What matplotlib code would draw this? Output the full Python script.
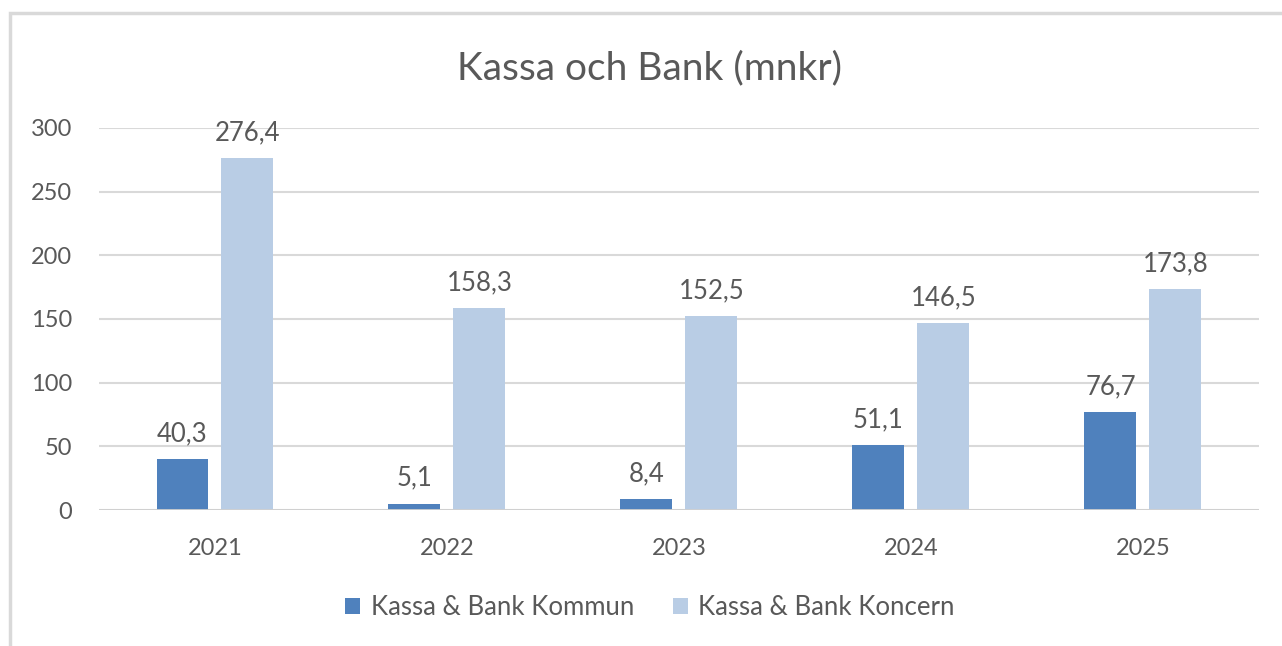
import numpy as np
import matplotlib.pyplot as plt
from matplotlib.patches import Rectangle

years = ["2021", "2022", "2023", "2024", "2025"]
kommun = [40.3, 5.1, 8.4, 51.1, 76.7]
koncern = [276.4, 158.3, 152.5, 146.5, 173.8]

plt.rcParams["font.family"] = ["Lato", "DejaVu Sans"]
text_color = "#595959"

fig = plt.figure(figsize=(12.82, 6.46), dpi=100)
ax = fig.add_axes([0.0772, 0.2105, 0.9048, 0.5914])

# chart frame (top and left edges visible in reference)
fig.add_artist(Rectangle((0.008, -0.01), 1.1, 0.99, transform=fig.transFigure,
                         fill=False, edgecolor="#d9d9d9", linewidth=2.5))

x = np.arange(len(years))
w = 0.224
b1 = ax.bar(x - 0.14, kommun, w, color="#4f81bd", label="Kassa & Bank Kommun", zorder=3)
b2 = ax.bar(x + 0.14, koncern, w, color="#b9cde5", label="Kassa & Bank Koncern", zorder=3)

for bars, vals in ((b1, kommun), (b2, koncern)):
    for bar, v in zip(bars, vals):
        ax.text(bar.get_x() + bar.get_width() / 2, v + 10,
                f"{v:.1f}".replace(".", ","), ha="center", va="bottom",
                fontsize=18.5, color=text_color)

ax.set_xlim(-0.5, 4.5)
ax.set_ylim(0, 300)
ax.set_yticks(range(0, 301, 50))
ax.set_xticks(x)
ax.set_xticklabels(years)
ax.grid(axis="y", color="#d9d9d9", linewidth=1.5, zorder=0)
for s in ax.spines.values():
    s.set_visible(False)
ax.axhline(0, color="#d0d0d0", linewidth=2, zorder=4)
ax.tick_params(length=0, labelsize=17, labelcolor=text_color)
ax.tick_params(axis="y", pad=19.5)
ax.tick_params(axis="x", pad=20)

fig.text(0.507, 0.895, "Kassa och Bank (mnkr)", ha="center", va="center",
         fontsize=28, color=text_color)

fig.legend(handles=[b1, b2], loc="center", bbox_to_anchor=(0.507, 0.06), ncol=2,
           frameon=False, fontsize=18.5, labelcolor=text_color, handlelength=0.6,
           handleheight=0.6, handletextpad=0.4, columnspacing=1.5)

fig.savefig("out.png", dpi=100)
